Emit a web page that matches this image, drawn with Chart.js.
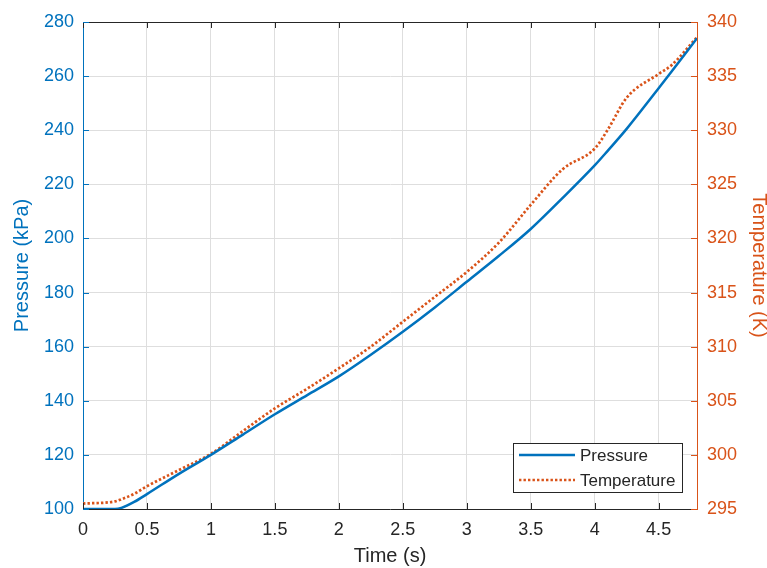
<!DOCTYPE html>
<html lang="en">
<head>
    <meta charset="UTF-8">
    <title>Pressure and Temperature</title>
    <script src="https://cdn.jsdelivr.net/npm/chart.js"></script>
    <style>
        /* plain white page, canvas fills the window */
        body {
            margin: 0;
            background-color: #ffffff;
        }
        #chart-box {
            width: 767px;
            height: 568px;
        }
    </style>
</head>
<body>
    <div id="chart-box">
        <canvas id="pt-chart" width="767" height="568"></canvas>
    </div>

    <script>
        // Values
        const timeS = [0, 0.25, 0.3, 0.4, 0.5, 0.75, 1, 1.25, 1.5, 1.75, 2, 2.25, 2.5, 2.75,
                       3, 3.25, 3.5, 3.75, 4, 4.1, 4.25, 4.5, 4.6, 4.8];
        const pressureKPa = [100, 100, 100.4, 102.6, 105.5, 113, 120, 127.5, 135, 142, 149, 157, 165.5, 174.5,
                             184, 193.5, 203.5, 215, 227, 232.3, 240.5, 255.5, 261.6, 274];
        const temperatureK = [295.5, 295.7, 295.9, 296.4, 297.1, 298.6, 300.1, 302.2, 304.3, 306.1, 308.0, 310.0, 312.3, 314.6,
                              316.9, 319.6, 323.1, 326.4, 328.3, 330.0, 333.0, 335.2, 336.0, 338.6];

        // Axis ranges / tick steps
        const timeRange = [0, 4.8];
        const pressureRange = [100, 280];
        const tempRange = [295, 340];
        const timeStep = 0.5;
        const pressureStep = 20;
        const tempStep = 5;

        const BLUE = '#0072BD';
        const ORANGE = '#D95319';
        const DARK = '#262626';
        const FONT = '"Liberation Sans", Arial, Helvetica, sans-serif';

        const pressurePoints = timeS.map((t, i) => ({ x: t, y: pressureKPa[i] }));
        const tempPoints = timeS.map((t, i) => ({ x: t, y: temperatureK[i] }));

        // Box round the plot, MATLAB style inward ticks, and the legend
        const axesBox = {
            id: 'axesBox',
            afterDraw(chart) {
                const ctx = chart.ctx;
                const a = chart.chartArea;
                const sx = chart.scales.x, sy = chart.scales.y, sy1 = chart.scales.y1;
                const tl = 6;
                ctx.save();
                ctx.lineWidth = 1;

                // top edge
                ctx.strokeStyle = DARK;
                ctx.beginPath();
                ctx.moveTo(a.left, a.top + 0.5);
                ctx.lineTo(a.right, a.top + 0.5);
                ctx.stroke();

                // x ticks, bottom and top
                sx.ticks.forEach(t => {
                    const px = Math.round(sx.getPixelForValue(t.value)) + 0.5;
                    ctx.beginPath();
                    ctx.moveTo(px, a.bottom);
                    ctx.lineTo(px, a.bottom - tl);
                    ctx.moveTo(px, a.top);
                    ctx.lineTo(px, a.top + tl);
                    ctx.stroke();
                });

                // left ticks
                ctx.strokeStyle = BLUE;
                sy.ticks.forEach(t => {
                    const py = Math.round(sy.getPixelForValue(t.value)) + 0.5;
                    ctx.beginPath();
                    ctx.moveTo(a.left, py);
                    ctx.lineTo(a.left + tl, py);
                    ctx.stroke();
                });

                // right ticks
                ctx.strokeStyle = ORANGE;
                sy1.ticks.forEach(t => {
                    const py = Math.round(sy1.getPixelForValue(t.value)) + 0.5;
                    ctx.beginPath();
                    ctx.moveTo(a.right, py);
                    ctx.lineTo(a.right - tl, py);
                    ctx.stroke();
                });

                // legend box, lower right inside the plot
                const bw = 169, bh = 49;
                const bx = a.right - 15 - bw;
                const by = a.bottom - 17 - bh;
                ctx.fillStyle = '#ffffff';
                ctx.fillRect(bx, by, bw, bh);
                ctx.strokeStyle = DARK;
                ctx.strokeRect(bx + 0.5, by + 0.5, bw, bh);

                const items = chart.data.datasets;
                ctx.font = '17px ' + FONT;
                ctx.textBaseline = 'middle';
                items.forEach((ds, i) => {
                    const ly = by + 12 + i * 25;
                    ctx.strokeStyle = ds.borderColor;
                    ctx.lineWidth = ds.borderWidth;
                    ctx.setLineDash(ds.borderDash || []);
                    ctx.beginPath();
                    ctx.moveTo(bx + 6, ly);
                    ctx.lineTo(bx + 62, ly);
                    ctx.stroke();
                    ctx.setLineDash([]);
                    ctx.fillStyle = DARK;
                    ctx.fillText(ds.label, bx + 67, ly + 1);
                });
                ctx.restore();
            }
        };

        const ctx = document.getElementById('pt-chart').getContext('2d');
        const ptChart = new Chart(ctx, {
            type: 'line',
            data: {
                datasets: [{
                    label: 'Pressure',
                    data: pressurePoints,
                    yAxisID: 'y',
                    borderColor: BLUE,
                    borderWidth: 2.5,
                    pointRadius: 0,
                    cubicInterpolationMode: 'monotone',
                    fill: false,
                }, {
                    label: 'Temperature',
                    data: tempPoints,
                    yAxisID: 'y1',
                    borderColor: ORANGE,
                    borderWidth: 2.7,
                    borderDash: [2.4, 2.1],
                    pointRadius: 0,
                    cubicInterpolationMode: 'monotone',
                    fill: false,
                }],
            },
            options: {
                responsive: false,
                animation: false,
                layout: { padding: { top: 22, left: 0, right: 0, bottom: 0 } },
                plugins: {
                    legend: { display: false },
                    tooltip: { enabled: false },
                },
                scales: {
                    x: {
                        type: 'linear',
                        min: timeRange[0],
                        max: timeRange[1],
                        ticks: {
                            stepSize: timeStep,
                            includeBounds: false,
                            color: DARK,
                            padding: 10,
                            maxRotation: 0,
                            font: { family: FONT, size: 18 },
                            // 0, 0.5, 1 ... like the original, not 0.0, 1.0
                            callback: (v) => String(Math.round(v * 10) / 10),
                        },
                        grid: { color: '#dedede', drawTicks: false },
                        border: { color: DARK, width: 1 },
                        title: {
                            display: true,
                            text: 'Time (s)',
                            color: DARK,
                            padding: 0,
                            font: { family: FONT, size: 20 },
                        },
                        afterFit(scale) { scale.height = 59; },
                    },
                    y: {
                        position: 'left',
                        min: pressureRange[0],
                        max: pressureRange[1],
                        ticks: {
                            stepSize: pressureStep,
                            color: BLUE,
                            padding: 9,
                            font: { family: FONT, size: 18 },
                        },
                        grid: { color: '#dedede', drawTicks: false },
                        border: { color: BLUE, width: 1 },
                        title: {
                            display: true,
                            text: 'Pressure (kPa)',
                            color: BLUE,
                            padding: { top: 10, bottom: 0 },
                            font: { family: FONT, size: 20 },
                        },
                        afterFit(scale) { scale.width = 83; },
                    },
                    y1: {
                        position: 'right',
                        min: tempRange[0],
                        max: tempRange[1],
                        ticks: {
                            stepSize: tempStep,
                            color: ORANGE,
                            padding: 10,
                            font: { family: FONT, size: 18 },
                        },
                        grid: { drawOnChartArea: false, drawTicks: false },
                        border: { color: ORANGE, width: 1 },
                        title: {
                            display: true,
                            text: 'Temperature (K)',
                            color: ORANGE,
                            padding: 0,
                            font: { family: FONT, size: 20, lineHeight: 0.8 },
                        },
                        afterFit(scale) { scale.width = 70; },
                    },
                },
            },
            plugins: [axesBox],
        });
    </script>
</body>
</html>
